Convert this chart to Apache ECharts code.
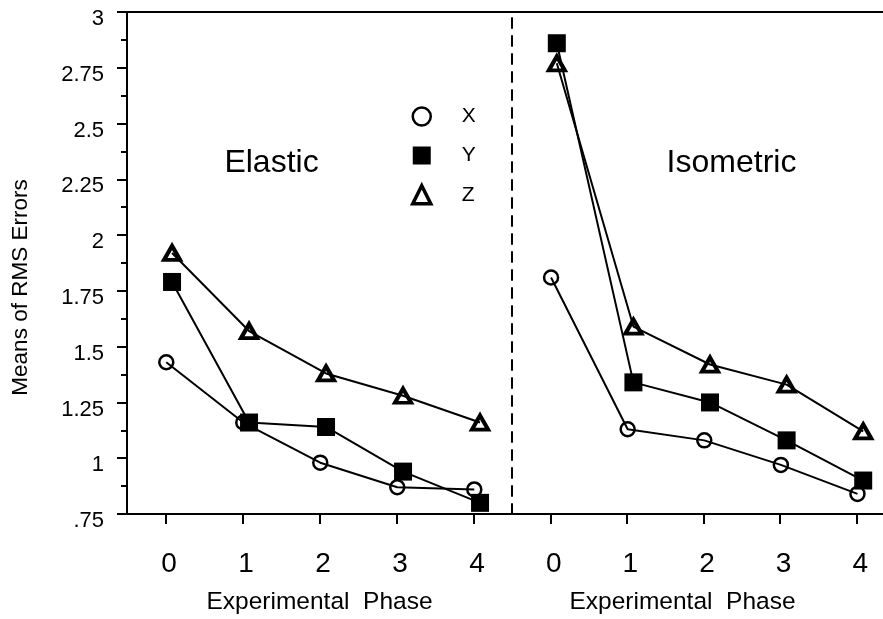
<!DOCTYPE html>
<html>
<head>
<meta charset="utf-8">
<script src="https://cdn.jsdelivr.net/npm/echarts@6/dist/echarts.min.js"></script>
<style>
  html, body { margin: 0; padding: 0; background: #fff; }
  #chart { width: 883px; height: 619px; }
</style>
</head>
<body>
<div id="chart"></div>
<script>
// Phase categories shared by both panels
const phases = ['0', '1', '2', '3', '4'];
// Y axis tick labels from .75 to 3 in steps of .25
const yTickLabels = ['.75', '1', '1.25', '1.5', '1.75', '2', '2.25', '2.5', '2.75', '3'];

// Means of RMS errors per phase, Elastic condition
const elasticX = [1.43, 1.16, 0.98, 0.87, 0.86];
const elasticY = [1.79, 1.16, 1.14, 0.94, 0.80];
const elasticZ = [1.92, 1.57, 1.38, 1.28, 1.16];

// Means of RMS errors per phase, Isometric condition
const isometricX = [1.81, 1.13, 1.08, 0.97, 0.84];
const isometricY = [2.86, 1.34, 1.25, 1.08, 0.90];
const isometricZ = [2.77, 1.59, 1.42, 1.33, 1.12];

const FONT = '"Liberation Sans", Arial, Helvetica, sans-serif';
const BLACK = '#000';
const CLEAR = 'rgba(0,0,0,0)';

// small horizontal nudge so overlapping markers stay readable
const markerShift = { X: 0.01, Y: 0.085, Z: 0.085 };

const markerStyle = {
  X: { symbol: 'circle', symbolSize: 14, itemStyle: { color: CLEAR, borderColor: BLACK, borderWidth: 2.5 } },
  Y: { symbol: 'rect', symbolSize: 18, itemStyle: { color: BLACK, borderColor: BLACK, borderWidth: 0 } },
  Z: { symbol: 'triangle', symbolSize: [16, 14], itemStyle: { color: CLEAR, borderColor: BLACK, borderWidth: 4 } }
};

function makeSeries(name, values, xAxisIndex, yAxisIndex) {
  const s = markerStyle[name];
  return {
    name: name,
    type: 'line',
    xAxisIndex: xAxisIndex,
    yAxisIndex: yAxisIndex,
    data: values.map((v, i) => [i + markerShift[name], v]),
    symbol: s.symbol,
    symbolSize: s.symbolSize,
    showAllSymbol: true,
    itemStyle: s.itemStyle,
    lineStyle: { color: BLACK, width: 2 },
    emphasis: { disabled: true },
    animation: false,
    z: name === 'Y' ? 3 : 4
  };
}

function categoryAxis(gridIndex, nameShift) {
  return {
    type: 'category',
    gridIndex: gridIndex,
    data: phases,
    boundaryGap: true,
    position: 'bottom',
    axisLine: { show: true, onZero: false, lineStyle: { color: BLACK, width: 2 } },
    axisTick: { show: true, alignWithLabel: true, length: 10, lineStyle: { color: BLACK, width: 2 } },
    axisLabel: { show: true, margin: 36, color: BLACK, fontSize: 28, fontFamily: FONT, padding: [0, 0, 0, 7] },
    splitLine: { show: false },
    name: 'Experimental  Phase',
    nameLocation: 'middle',
    nameGap: 76,
    nameTextStyle: { color: BLACK, fontSize: 24.5, fontFamily: FONT, padding: [0, nameShift, 0, 0] }
  };
}

function plotAxis(gridIndex) {
  return {
    type: 'value',
    gridIndex: gridIndex,
    min: -0.5,
    max: 4.5,
    show: false
  };
}

function topLine(gridIndex) {
  return {
    type: 'value',
    gridIndex: gridIndex,
    position: 'top',
    min: 0,
    max: 1,
    axisLine: { show: true, lineStyle: { color: BLACK, width: 2 } },
    axisTick: { show: false },
    axisLabel: { show: false },
    splitLine: { show: false }
  };
}

const chart = echarts.init(document.getElementById('chart'), null, { renderer: 'canvas' });

chart.setOption({
  animation: false,
  backgroundColor: '#fff',
  grid: [
    { left: 127, top: 12, width: 385, bottom: 105, outerBoundsMode: 'none', containLabel: false },
    { left: 512, top: 12, width: 383, bottom: 105, outerBoundsMode: 'none', containLabel: false }
  ],
  xAxis: [
    categoryAxis(0, 0),
    plotAxis(0),
    topLine(0),
    categoryAxis(1, 42),
    plotAxis(1),
    topLine(1)
  ],
  yAxis: [
    {
      type: 'value',
      gridIndex: 0,
      min: 0.75,
      max: 3,
      interval: 0.25,
      axisLine: { show: true, onZero: false, lineStyle: { color: BLACK, width: 2 } },
      axisTick: { show: true, length: 10, lineStyle: { color: BLACK, width: 2 } },
      minorTick: { show: true, splitNumber: 2, length: 6, lineStyle: { color: BLACK, width: 2 } },
      axisLabel: {
        margin: 23,
        color: BLACK,
        fontSize: 22,
        fontFamily: FONT,
        verticalAlign: 'top',
        lineHeight: 14,
        formatter: v => yTickLabels[Math.round((v - 0.75) / 0.25)]
      },
      splitLine: { show: false }
    },
    {
      type: 'value',
      gridIndex: 1,
      min: 0.75,
      max: 3,
      interval: 0.25,
      axisLine: { show: true, onZero: false, lineStyle: { color: BLACK, width: 2, type: [10, 8] } },
      axisTick: { show: false },
      axisLabel: { show: false },
      splitLine: { show: false }
    }
  ],
  legend: {
    orient: 'vertical',
    left: 406,
    top: 101,
    itemWidth: 18,
    itemHeight: 18,
    itemGap: 18,
    selectedMode: false,
    textStyle: { color: BLACK, fontSize: 21, fontFamily: FONT, padding: [0, 0, 0, 26] },
    data: [
      { name: 'X', icon: 'circle', itemStyle: { color: CLEAR, borderColor: BLACK, borderWidth: 2.5 } },
      { name: 'Y', icon: 'rect', itemStyle: { color: BLACK, borderWidth: 0 } },
      { name: 'Z', icon: 'triangle', itemStyle: { color: CLEAR, borderColor: BLACK, borderWidth: 3.5 } }
    ]
  },
  graphic: [
    {
      type: 'text',
      x: 20.5, y: 287.5,
      rotation: Math.PI / 2,
      style: { text: 'Means of RMS Errors', fill: BLACK, font: '22.5px ' + FONT, textAlign: 'center', textVerticalAlign: 'middle' }
    },
    {
      type: 'text',
      x: 271.5, y: 163,
      style: { text: 'Elastic', fill: BLACK, font: '32px ' + FONT, textAlign: 'center', textVerticalAlign: 'middle' }
    },
    {
      type: 'text',
      x: 731.5, y: 163,
      style: { text: 'Isometric', fill: BLACK, font: '32px ' + FONT, textAlign: 'center', textVerticalAlign: 'middle' }
    }
  ],
  series: [
    makeSeries('X', elasticX, 1, 0),
    makeSeries('Y', elasticY, 1, 0),
    makeSeries('Z', elasticZ, 1, 0),
    makeSeries('X', isometricX, 4, 1),
    makeSeries('Y', isometricY, 4, 1),
    makeSeries('Z', isometricZ, 4, 1)
  ]
});
</script>
</body>
</html>
